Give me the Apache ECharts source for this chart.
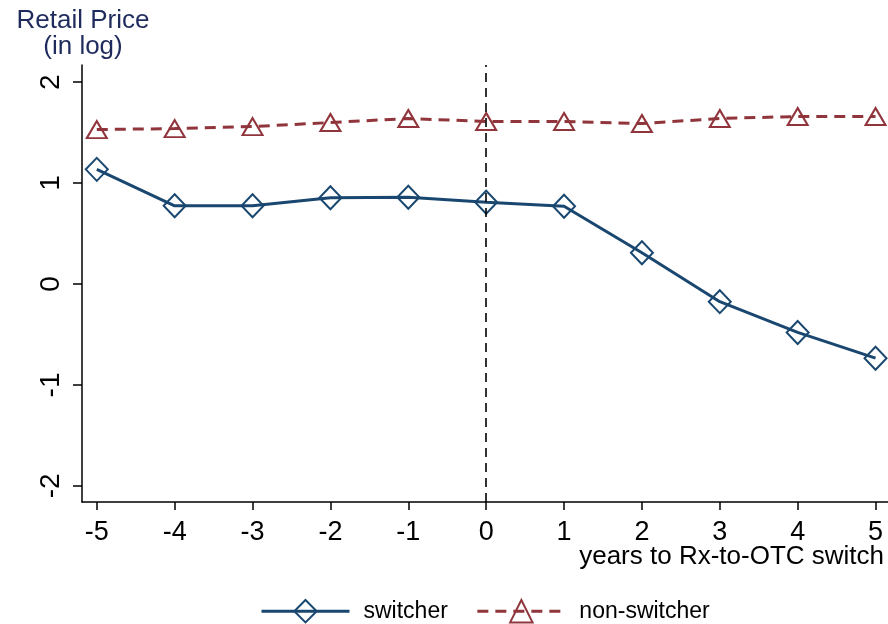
<!DOCTYPE html>
<html>
<head>
<meta charset="utf-8">
<script src="https://cdn.jsdelivr.net/npm/echarts@6/dist/echarts.min.js"></script>
<style>html,body{margin:0;padding:0;background:#fff;}#c{width:888px;height:624px;}</style>
</head>
<body>
<div id="c"></div>
<script>
const years = [-5, -4, -3, -2, -1, 0, 1, 2, 3, 4, 5];
const switcher = [1.136, 0.775, 0.775, 0.855, 0.86, 0.81, 0.77, 0.31, -0.175, -0.48, -0.735];
const nonSwitcher = [1.53, 1.54, 1.56, 1.60, 1.64, 1.61, 1.61, 1.59, 1.64, 1.66, 1.66];
const yTicks = [-2, -1, 0, 1, 2];
const xTicks = [-5, -4, -3, -2, -1, 0, 1, 2, 3, 4, 5];
const xTitle = 'years to Rx-to-OTC switch';

const FONT = 'Liberation Sans, Arial, sans-serif';
const C1 = '#1a476f';
const C2 = '#90353b';

const chart = echarts.init(document.getElementById('c'), null, {renderer: 'canvas'});
chart.setOption({
  animation: false,
  backgroundColor: '#fff',
  title: {
    text: 'Retail Price\n(in log)',
    left: 78, top: 3,
    textAlign: 'center',
    textStyle: {fontFamily: FONT, fontSize: 26, fontWeight: 'normal', color: '#1e2b5c', lineHeight: 26}
  },
  graphic: [{
    type: 'text', right: 4, top: 544,
    style: {text: xTitle, font: '26px ' + FONT, fill: '#000'}
  }],
  grid: {left: 82, right: 0, top: 65, bottom: 122, containLabel: false, outerBoundsMode: 'none'},
  legend: {
    left: 255, top: 594,
    itemWidth: 88, itemHeight: 28, itemGap: 28,
    lineStyle: {width: 3},
    textStyle: {fontFamily: FONT, fontSize: 23, color: '#000', padding: [0, 0, 0, 9]},
    data: ['switcher', 'non-switcher']
  },
  xAxis: {
    type: 'value', min: -5.19, max: 5.16,
    axisLine: {show: true, onZero: false, lineStyle: {color: '#000', width: 1.5}},
    axisTick: {show: true, length: 8, lineStyle: {color: '#000', width: 1.5}, customValues: xTicks},
    axisLabel: {fontFamily: FONT, fontSize: 27, color: '#000', margin: 17, customValues: xTicks,
      formatter: v => String(v)},
    splitLine: {show: false}
  },
  yAxis: {
    type: 'value', min: -2.16, max: 2.17,
    axisLine: {show: true, onZero: false, lineStyle: {color: '#000', width: 1.5}},
    axisTick: {show: true, length: 9, lineStyle: {color: '#000', width: 1.5}, customValues: yTicks},
    axisLabel: {fontFamily: FONT, fontSize: 28, color: '#000', margin: 17, rotate: 90, customValues: yTicks,
      formatter: v => String(v)},
    splitLine: {show: false}
  },
  series: [
    {
      name: 'switcher', type: 'line',
      data: years.map((x, i) => [x, switcher[i]]),
      symbol: 'diamond', symbolSize: [22, 23],
      lineStyle: {color: C1, width: 3},
      itemStyle: {color: 'rgba(255,255,255,0)', borderColor: C1, borderWidth: 2},
      z: 3,
      markLine: {
        silent: true, symbol: 'none', label: {show: false},
        lineStyle: {color: '#000', type: [9, 6], width: 1.6},
        data: [{xAxis: 0}]
      }
    },
    {
      name: 'non-switcher', type: 'line',
      data: years.map((x, i) => [x, nonSwitcher[i]]),
      symbol: 'triangle', symbolSize: [20, 17],
      lineStyle: {color: C2, width: 3, type: [11, 7]},
      itemStyle: {color: 'rgba(255,255,255,0)', borderColor: C2, borderWidth: 2},
      z: 3
    }
  ]
});
</script>
</body>
</html>
